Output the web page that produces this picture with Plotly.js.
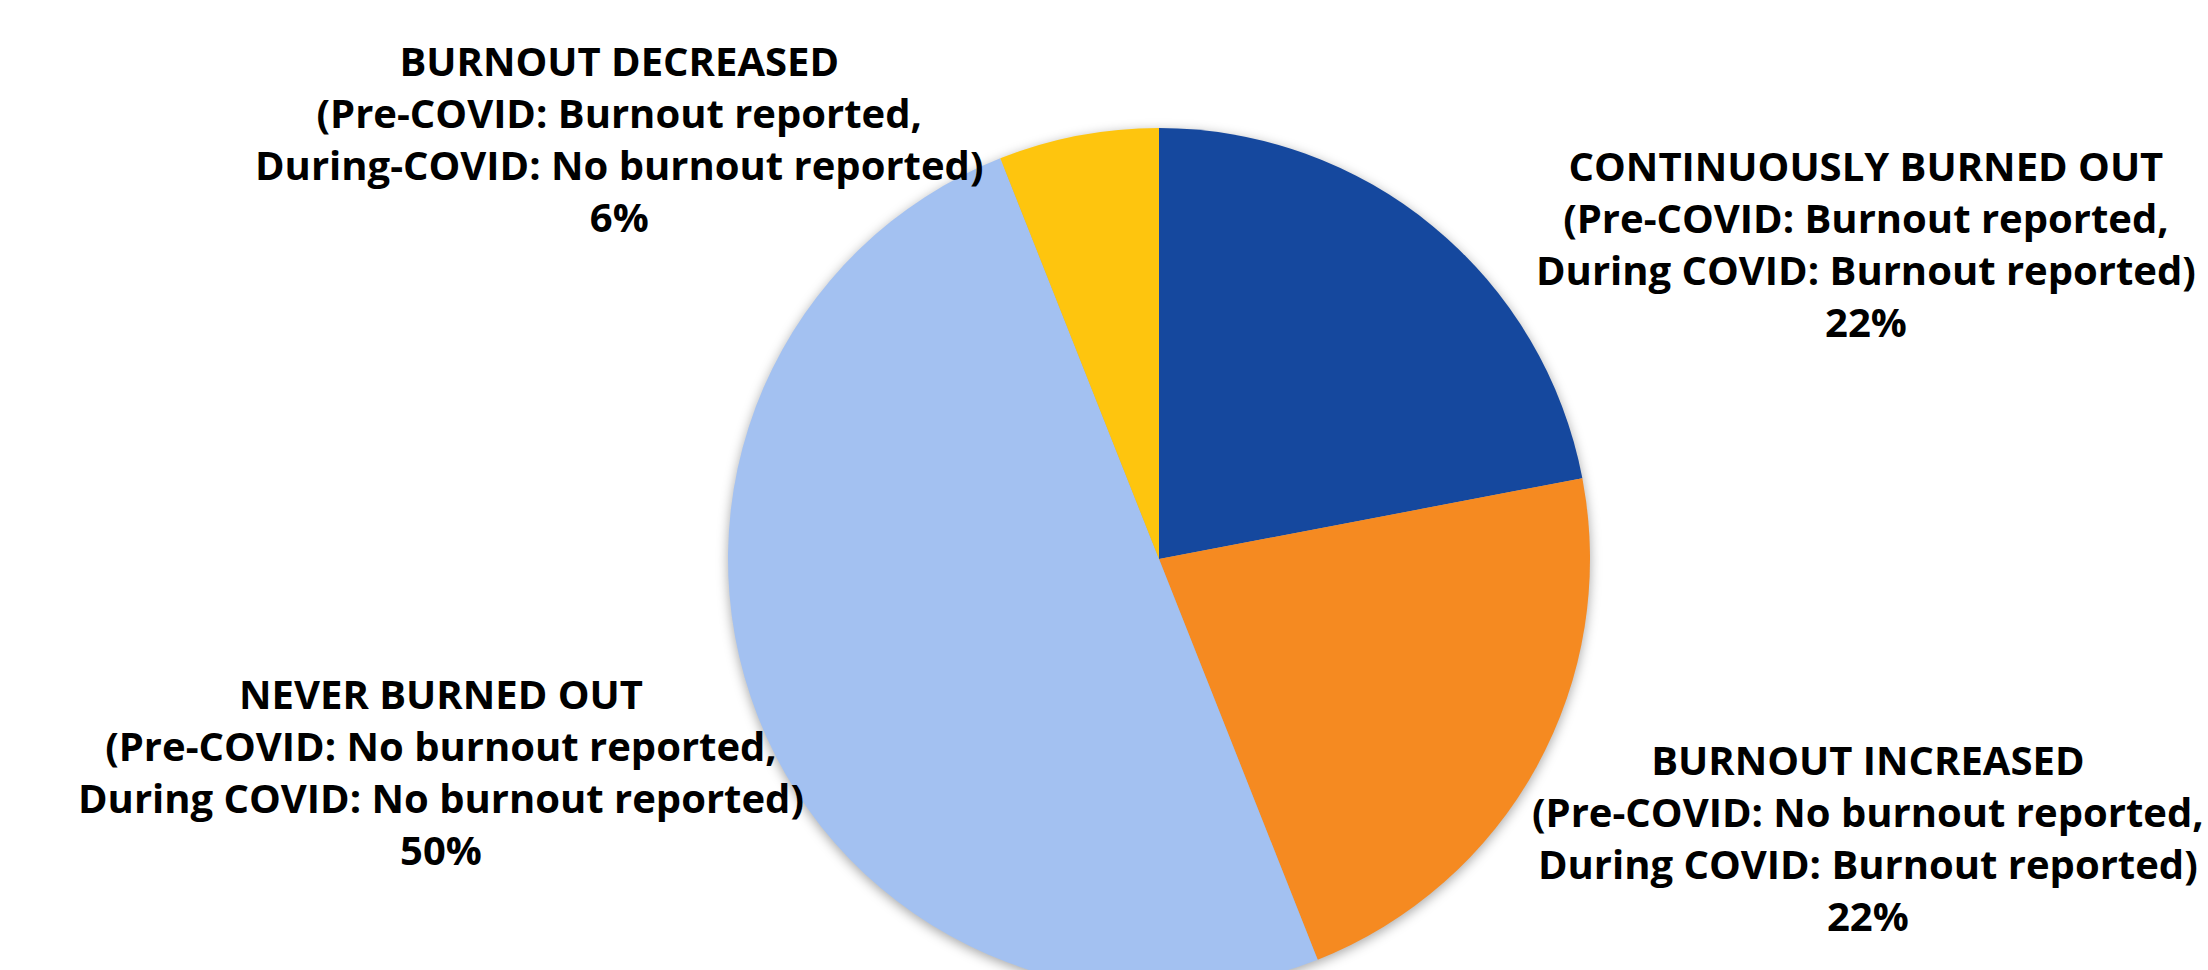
<!DOCTYPE html>
<html>
<head>
<meta charset="utf-8">
<script src="https://cdn.plot.ly/plotly-3.0.1.min.js"></script>
<style>
html, body { margin: 0; padding: 0; background: #fff; overflow: hidden; }
#chart { width: 2208px; height: 1000px; }
.pielayer { filter: drop-shadow(0px 3px 6px rgba(0,0,0,0.35)); }
</style>
</head>
<body>
<div id="chart"></div>
<script>
const categories = ["CONTINUOUSLY BURNED OUT", "BURNOUT INCREASED", "NEVER BURNED OUT", "BURNOUT DECREASED"];
const preCovid = ["Pre-COVID: Burnout reported,", "Pre-COVID: No burnout reported,", "Pre-COVID: No burnout reported,", "Pre-COVID: Burnout reported,"];
const duringCovid = ["During COVID: Burnout reported", "During COVID: Burnout reported", "During COVID: No burnout reported", "During-COVID: No burnout reported"];
const values = [22, 22, 50, 6];
const colors = ["#15489E", "#F58A21", "#A3C1F1", "#FEC50E"];

const H = 1000;
const labelPos = [
  {x: 1866, y: 243},
  {x: 1868, y: 837},
  {x: 441, y: 771},
  {x: 619, y: 138}
];

const total = values.reduce((a, b) => a + b, 0);
const annotations = categories.map((c, i) => ({
  xref: 'paper', yref: 'paper',
  x: labelPos[i].x / 2208, y: 1 - labelPos[i].y / H,
  xanchor: 'center', yanchor: 'middle',
  showarrow: false, align: 'center',
  text: c + '<br>(' + preCovid[i] + '<br>' + duringCovid[i] + ')<br>' + Math.round(values[i] / total * 100) + '%',
  font: {family: 'Open Sans', size: 40, color: '#000', weight: 700}
}));

const trace = {
  type: 'pie',
  labels: categories,
  values: values,
  sort: false,
  direction: 'clockwise',
  rotation: 0,
  textinfo: 'none',
  hoverinfo: 'label+percent',
  marker: {colors: colors, line: {width: 0}},
  domain: {x: [728 / 2208, 1590 / 2208], y: [(H - 990) / H, (H - 128) / H]},
  showlegend: false
};

Plotly.newPlot('chart', [trace], {
  width: 2208, height: H,
  margin: {l: 0, r: 0, t: 0, b: 0},
  paper_bgcolor: '#fff',
  showlegend: false,
  annotations: annotations
}, {displayModeBar: false, staticPlot: true});
</script>
</body>
</html>
